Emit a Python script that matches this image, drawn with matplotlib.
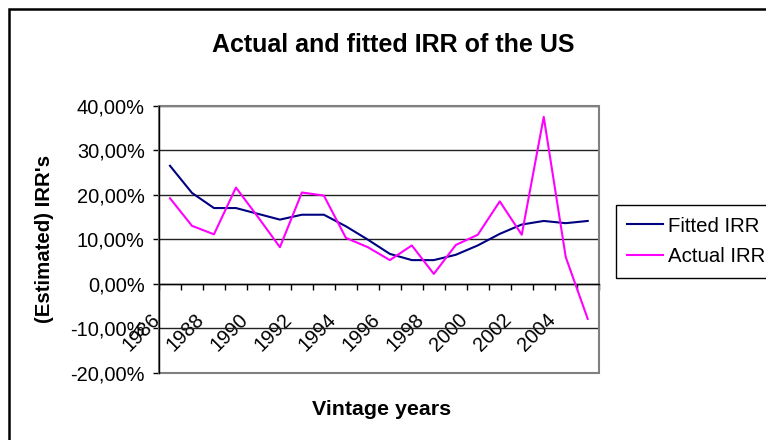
import numpy as np
import matplotlib
matplotlib.use("Agg")
import matplotlib.pyplot as plt
from matplotlib.patches import Rectangle
from matplotlib.ticker import FuncFormatter
from matplotlib.transforms import ScaledTranslation

plt.rcParams['font.family'] = ['Liberation Sans', 'DejaVu Sans']

# Vintage years and IRR series (percent)
years = list(range(1986, 2006))
fitted_irr = [26.5, 20.4, 17.0, 17.0, 15.7, 14.4, 15.5, 15.5, 12.9, 9.9,
              6.7, 5.3, 5.3, 6.5, 8.6, 11.2, 13.3, 14.1, 13.6, 14.1]
actual_irr = [19.2, 13.0, 11.1, 21.6, 15.0, 8.2, 20.5, 19.8, 10.3, 8.2,
              5.3, 8.6, 2.2, 8.7, 11.0, 18.5, 11.0, 37.5, 6.0, -7.9]
year_labels = [str(y) for y in years[::2] if y <= 2004]
y_ticks = [-20, -10, 0, 10, 20, 30, 40]

W, H, DPI = 766, 440, 100
fig = plt.figure(figsize=(W / DPI, H / DPI), dpi=DPI)
fig.patch.set_facecolor('white')

# outer chart border
fig.add_artist(Rectangle((8.7 / W, -0.2), 1.5, 1.2 - 8.7 / H,
                         transform=fig.transFigure, fill=False,
                         ec='black', lw=1.8))

left, right, top, bottom = 159, 598.7, 105.7, 372.7
ax = fig.add_axes([left / W, 1 - bottom / H, (right - left) / W, (bottom - top) / H])

x = np.arange(len(years))
ax.plot(x, fitted_irr, color='#000080', lw=1.5, label='Fitted IRR', zorder=4)
ax.plot(x, actual_irr, color='#FF00FF', lw=1.5, label='Actual IRR', zorder=4)

ax.set_xlim(-0.5, len(years) - 0.5)
ax.set_ylim(-20, 40)

# gridlines and plot-area frame
ax.set_yticks(y_ticks)
ax.yaxis.grid(True, color='#222222', lw=1.0, zorder=0.5)
ax.set_axisbelow(True)
for s in ('top', 'right'):
    ax.spines[s].set_visible(False)
ax.add_patch(Rectangle((0, 0), 1, 1, transform=ax.transAxes, fill=False,
                       ec='#808080', lw=1.5, clip_on=False, zorder=2.5))
ax.spines['left'].set_color('black')
ax.spines['left'].set_linewidth(1.0)
ax.spines['left'].set_zorder(3)
ax.spines['bottom'].set_position(('data', 0))
ax.spines['bottom'].set_color('black')
ax.spines['bottom'].set_linewidth(1.0)
ax.spines['bottom'].set_zorder(3)

ax.yaxis.set_major_formatter(FuncFormatter(lambda v, p: f"{v:.2f}%".replace('.', ',')))
ax.tick_params(axis='y', direction='out', length=4.3, width=1, labelsize=14.4,
               pad=6, colors='black')

# category axis: labels on every other year, tick marks between categories
ax.set_xticks(x[::2][:len(year_labels)])
ax.set_xticklabels(year_labels, rotation=45, ha='right', va='center',
                   rotation_mode='anchor', fontsize=14.4)
ax.set_xticks(np.arange(-0.5, len(years), 1), minor=True)
ax.tick_params(axis='x', which='major', length=0, pad=23.5)
ax.tick_params(axis='x', which='minor', direction='out', length=4.3, width=1)
shift = ScaledTranslation(-13 / DPI, 0, fig.dpi_scale_trans)
for t in ax.xaxis.get_major_ticks():
    t.label1.set_transform(t.label1.get_transform() + shift)

fig.text(393.7 / W, 1 - 51.7 / H, 'Actual and fitted IRR of the US',
         ha='center', va='baseline', fontsize=18, fontweight='bold')
fig.text(45 / W, 1 - 239 / H, "(Estimated) IRR's", rotation=90,
         ha='center', va='center', fontsize=14.7, fontweight='bold')
fig.text(381.2 / W, 1 - 415 / H, 'Vintage years', ha='center', va='baseline',
         fontsize=15.4, fontweight='bold')

leg = fig.legend(loc='upper left', bbox_to_anchor=(616 / W, 1 - 205.3 / H),
                 borderaxespad=0, fontsize=14.7, frameon=True, fancybox=False,
                 edgecolor='black', framealpha=1, handlelength=1.75,
                 handletextpad=0.25, labelspacing=0.58, borderpad=0.55)
leg.get_frame().set_linewidth(1.0)

fig.savefig('out.png', dpi=DPI)
